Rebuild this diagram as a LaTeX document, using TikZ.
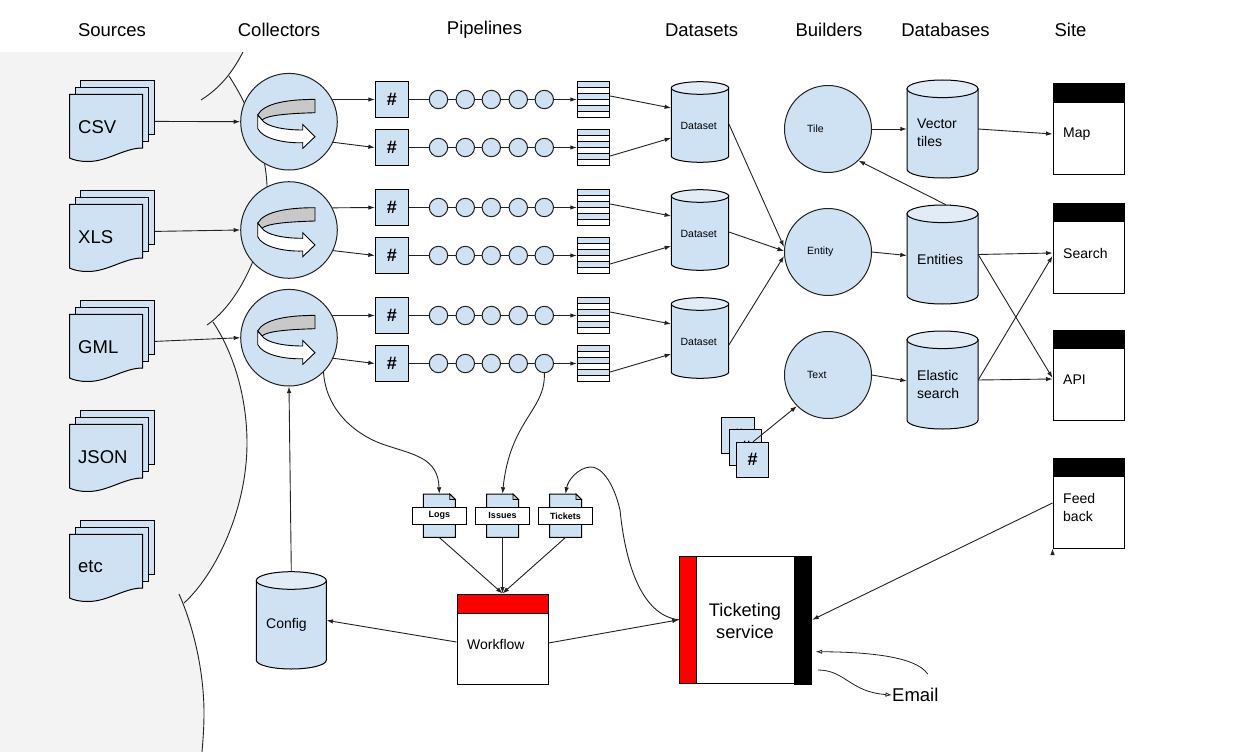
\documentclass[tikz,border=0pt]{standalone}
\usepackage{fontspec}
\setmainfont{Liberation Sans}
\usetikzlibrary{arrows.meta,calc}
\definecolor{bluefill}{HTML}{CFE2F3}
\definecolor{capfill}{HTML}{E2ECF7}
\definecolor{bggray}{HTML}{F3F3F3}
\definecolor{bandgray}{HTML}{C8C8C8}
\definecolor{linedark}{HTML}{222222}
\tikzset{
  conn/.style={draw=linedark,line width=0.9pt,-{Latex[length=6.5pt,width=4.5pt]}},
  plainconn/.style={draw=linedark,line width=0.9pt},
  openconn/.style={draw=linedark,line width=0.8pt,-{Latex[open,length=6.5pt,width=4.5pt]}},
  shapeline/.style={draw=black,line width=1pt},
  sheet/.style={shapeline,fill=bluefill,inner sep=0pt,rectangle},
  bigcircle/.style={draw=linedark,line width=1pt,fill=bluefill,circle,inner sep=0pt,minimum size=96.6pt},
  buildcircle/.style={draw=linedark,line width=1pt,fill=bluefill,circle,inner sep=0pt,minimum size=87pt},
  beadcircle/.style={draw=linedark,line width=1pt,fill=bluefill,circle,inner sep=0pt,minimum size=18.4pt},
  hashbox/.style={sheet,minimum width=33.4pt,minimum height=35.6pt,font=\fontsize{18}{20}\selectfont\bfseries},
  smallhash/.style={sheet,minimum width=32.6pt,minimum height=35.6pt,font=\fontsize{18}{20}\selectfont\bfseries},
  anchorbox/.style={inner sep=0pt,rectangle},
  headtext/.style={font=\fontsize{18.5}{22}\selectfont,inner sep=0pt},
  bigtext/.style={font=\fontsize{18.5}{22}\selectfont,inner sep=0pt,anchor=west},
  midtext/.style={font=\fontsize{14}{18}\selectfont,inner sep=0pt,anchor=west,align=left},
  smalltext/.style={font=\fontsize{10.5}{12}\selectfont,inner sep=0pt},
  notelabel/.style={shapeline,fill=white,inner sep=0pt,minimum width=54pt,minimum height=17pt,font=\fontsize{9}{10}\selectfont\bfseries},
  arcline/.style={draw=linedark,line width=0.9pt},
}
% source stack: name, vertical offset, text
\newcommand\srcstack[3]{%
  \node[sheet,minimum width=74.4pt,minimum height=54.2pt] (#1b) at (117.4,{107.4+#2}) {};
  \node[sheet,minimum width=73pt,minimum height=54pt] (#1m) at (111.6,{114.3+#2}) {};
  \draw[shapeline,fill=bluefill] (69.5,{94.3+#2}) -- (142.7,{94.3+#2}) -- (142.7,{148+#2})
     .. controls (124,{148+#2}) and (108,{161.5+#2}) .. (88,{161.5+#2})
     .. controls (79,{161.5+#2}) and (74,{160+#2}) .. (69.5,{158+#2}) -- cycle;
  \node[bigtext] (#1) at (78,{127+#2}) {#3};
}
% cylinder: name, centre x, top, bottom, width, cap radius
\newcommand\dbcyl[6]{%
  \pgfmathsetmacro\cylL{#2-#5/2}\pgfmathsetmacro\cylR{#2+#5/2}
  \pgfmathsetmacro\cylA{#3+#6}\pgfmathsetmacro\cylB{#4-#6}
  \pgfmathsetmacro\cylC{#4-#6+0.5523*#6}
  \pgfmathsetmacro\cylP{#2-0.5523*#5/2}\pgfmathsetmacro\cylQ{#2+0.5523*#5/2}
  \pgfmathsetmacro\cylM{(#3+#4)/2}\pgfmathsetmacro\cylH{#4-#3}
  \draw[shapeline,fill=bluefill] (\cylL,\cylA) -- (\cylL,\cylB)
     .. controls (\cylL,\cylC) and (\cylP,#4) .. (#2,#4)
     .. controls (\cylQ,#4) and (\cylR,\cylC) .. (\cylR,\cylB) -- (\cylR,\cylA) -- cycle;
  \draw[shapeline,fill=capfill] (#2,\cylA) ellipse [x radius=#5/2,y radius=#6];
  \node[anchorbox,minimum width=#5 pt,minimum height=\cylH pt] (#1) at (#2,\cylM) {};
}
% the curved arrow inside a collector: centre y
\newcommand\turnarrow[1]{%
  \begin{scope}[shift={(289,#1)}]
    \draw[shapeline,line width=0.9pt,fill=bandgray] (26,-22.3) .. controls (-2,-22.3) and (-25.3,-18.3) .. (-31.3,-6.7)
      -- (-27,-1.7) .. controls (-22,-6.7) and (1.3,-8.3) .. (26,-9) -- cycle;
    \draw[shapeline,line width=0.9pt,fill=white] (-31.3,-6.7) -- (-31.3,6.7) .. controls (-27,16.7) and (-5.3,21.7) .. (13.7,21)
      -- (13.7,26.7) -- (26,15) -- (13.7,2.7) -- (13.7,8.3) .. controls (-5.3,8.3) and (-22,5) .. (-27,-1.7) -- cycle;
  \end{scope}
}
% queue: name, centre y
\newcommand\queuebox[2]{%
  \foreach \qi in {0,2,4}{
    \fill[bluefill] (577.3,{#2-18+6*\qi}) rectangle (609.7,{#2-12+6*\qi});
  }
  \foreach \qi in {1,...,5}{
    \draw[black,line width=1pt] (577.3,{#2-18+6*\qi}) -- (609.7,{#2-18+6*\qi});
  }
  \node[shapeline,inner sep=0pt,minimum width=32.4pt,minimum height=36pt] (#1) at (593.5,#2) {};
}
% site page: name, top, text, text y
\newcommand\sitepage[4]{%
  \node[shapeline,fill=white,inner sep=0pt,minimum width=71pt,minimum height=90pt] (#1) at (1088.5,{#2+45}) {};
  \fill[black] (1053,#2) rectangle (1124,{#2+19});
  \node[midtext] (#1t) at (1063,#4) {#3};
}
% note: name, left of page, text
\newcommand\notedoc[3]{%
  \node[anchorbox,minimum width=32pt,minimum height=43.3pt] (#1) at ({#2+16},515.65) {};
  \draw[shapeline,fill=bluefill] (#2,494) -- ({#2+26.5},494) -- ({#2+32},499.5) -- ({#2+32},537.3) -- (#2,537.3) -- cycle;
  \draw[black,line width=0.8pt,fill=bandgray] ({#2+26.5},494) -- ({#2+26.5},499.5) -- ({#2+32},499.5) -- cycle;
  \node[notelabel] (#1l) at ({#2+16},515.8) {#3};
}
\begin{document}
\begin{tikzpicture}[x=1pt,y=-1pt]
\useasboundingbox (0,0) rectangle (1240,752);
\fill[white] (0,0) rectangle (1240,752);
% grey background
\fill[bggray] (0,52) -- (243,52) .. controls (238,62) and (234,69) .. (229,76)
  .. controls (248,105) and (265,145) .. (267,185)
  .. controls (270,235) and (243,295) .. (213,322)
  .. controls (235,355) and (247,400) .. (247,443)
  .. controls (247,510) and (215,575) .. (184,603)
  .. controls (195,630) and (204,675) .. (204,713)
  .. controls (204,728) and (203,740) .. (202,752) -- (0,752) -- cycle;
\draw[arcline] (243,52) .. controls (232,73) and (220,88) .. (201,100);
\draw[arcline] (229,76) .. controls (248,105) and (265,145) .. (267,185)
  .. controls (270,235) and (243,300) .. (207,325);
\draw[arcline] (213,322) .. controls (235,355) and (247,400) .. (247,443)
  .. controls (247,510) and (215,575) .. (184,603);
\draw[arcline] (179,594) .. controls (195,630) and (204,675) .. (204,713)
  .. controls (204,728) and (203,740) .. (202,752);
% headers
\node[headtext] (hSources) at (112,30) {Sources};
\node[headtext] (hCollectors) at (279,30) {Collectors};
\node[headtext] (hPipelines) at (484.5,30) {Pipelines};
\node[headtext] (hDatasets) at (701.5,30) {Datasets};
\node[headtext] (hBuilders) at (829,30) {Builders};
\node[headtext] (hDatabases) at (945.5,30) {Databases};
\node[headtext] (hSite) at (1070.5,30) {Site};
% sources
\srcstack{s1}{0}{CSV}
\srcstack{s2}{110}{XLS}
\srcstack{s3}{220}{GML}
\srcstack{s4}{330}{JSON}
\srcstack{s5}{440}{etc}
% collectors
\node[bigcircle] (c1) at (289,121.7) {};
\node[bigcircle] (c2) at (289,230) {};
\node[bigcircle] (c3) at (289,337.7) {};
\turnarrow{121.7}
\turnarrow{230}
\turnarrow{337.7}
\draw[conn] ([yshift=-14pt]s1b.east) -- (c1.west);
\draw[conn] ([yshift=-14pt]s2b.east) -- (c2.west);
\draw[conn] ([yshift=-14pt]s3b.east) -- (c3.west);
% pipelines
\foreach \rw/\yy in {1/99.5,2/147.5,3/207.5,4/255.5,5/315.5,6/363.5}{
  \node[hashbox] (h\rw) at (392,\yy) {\#};
  \node[beadcircle] (p\rw a) at (438.5,\yy) {};
  \node[beadcircle] (p\rw b) at (465.3,\yy) {};
  \node[beadcircle] (p\rw c) at (491.3,\yy) {};
  \node[beadcircle] (p\rw d) at (518.3,\yy) {};
  \node[beadcircle] (p\rw e) at (544.3,\yy) {};
  \queuebox{q\rw}{\yy}
  \draw[plainconn] (h\rw) -- (p\rw a);
  \draw[plainconn] (p\rw a) -- (p\rw b);
  \draw[plainconn] (p\rw b) -- (p\rw c);
  \draw[plainconn] (p\rw c) -- (p\rw d);
  \draw[plainconn] (p\rw d) -- (p\rw e);
  \draw[conn] (p\rw e) -- (q\rw);
}
\draw[conn] (c1.27) -- (h1.west);
\draw[conn] (c1.-25) -- (h2.west);
\draw[conn] (c2.27) -- (h3.west);
\draw[conn] (c2.-25) -- (h4.west);
\draw[conn] (c3.27) -- (h5.west);
\draw[conn] (c3.-25) -- (h6.west);
% datasets
\dbcyl{d1}{700}{81.7}{162.3}{57.4}{6.3}
\dbcyl{d2}{700}{189.7}{270.3}{57.4}{6.3}
\dbcyl{d3}{700}{297.7}{378.3}{57.4}{6.3}
\node[smalltext] (d1t) at (698.7,125.7) {Dataset};
\node[smalltext] (d2t) at (698.7,233.7) {Dataset};
\node[smalltext] (d3t) at (698.7,341.7) {Dataset};
\draw[conn] ([yshift=3.5pt]q1.east) -- ([yshift=14pt]d1.west);
\draw[conn] ([yshift=-8.5pt]q2.east) -- ([yshift=-16pt]d1.west);
\draw[conn] ([yshift=3.5pt]q3.east) -- ([yshift=14pt]d2.west);
\draw[conn] ([yshift=-8.5pt]q4.east) -- ([yshift=-16pt]d2.west);
\draw[conn] ([yshift=3.5pt]q5.east) -- ([yshift=14pt]d3.west);
\draw[conn] ([yshift=-8.5pt]q6.east) -- ([yshift=-16pt]d3.west);
% builders
\node[buildcircle] (bt) at (828,129) {};
\node[buildcircle] (be) at (828,252) {};
\node[buildcircle] (bx) at (828,375) {};
\node[smalltext,anchor=west] (btt) at (807,129) {Tile};
\node[smalltext,anchor=west] (bet) at (807,252) {Entity};
\node[smalltext,anchor=west] (bxt) at (807,375) {Text};
\draw[conn] ([yshift=-2pt]d1.east) -- ([yshift=5pt]be.west);
\draw[conn] ([yshift=-2pt]d2.east) -- ([yshift=1pt]be.west);
\draw[conn] ([yshift=-7pt]d3.east) -- ([yshift=-4pt]be.west);
% hash pile
\node[smallhash,minimum width=33.4pt,minimum height=36pt] (x1) at (738,435.3) {\#};
\node[smallhash,minimum height=36pt] (x2) at (745.5,447) {\#};
\node[smallhash,minimum height=35pt] (x3) at (752.5,459.8) {\#};
\draw[conn] ([xshift=0.5pt]x3.north) -- (bx.-135);
% databases
\dbcyl{v1}{942.5}{80}{178}{71}{8.8}
\dbcyl{v2}{942.5}{205}{304}{71}{8.8}
\dbcyl{v3}{942.5}{331}{429}{71}{8.8}
\node[midtext] (v1t) at (917,133) {Vector\\tiles};
\node[midtext] (v2t) at (917,259) {Entities};
\node[midtext] (v3t) at (917,384) {Elastic\\search};
\draw[conn] (bt.east) -- (v1.west);
\draw[conn] (be.east) -- ([yshift=-1pt]v2.west);
\draw[conn] (bx.east) -- ([yshift=-1pt]v3.west);
\draw[conn] ([xshift=3.5pt]v2.north) -- (bt.-46);
% site
\sitepage{m1}{84}{Map}{134}
\sitepage{m2}{203}{Search}{253}
\sitepage{m3}{330}{API}{380}
\sitepage{m4}{458}{Feed\\back}{507}
\draw[conn] (v1.east) -- ([yshift=-5pt]m1.west);
\draw[conn] (v2.east) -- ([yshift=-5pt]m2.west);
\draw[conn] (v2.east) -- ([yshift=-3pt]m3.west);
\draw[conn] (v3.east) -- ([yshift=-8pt]m2.west);
\draw[conn] (v3.east) -- ([yshift=-4pt]m3.west);
% notes
\notedoc{n1}{423.3}{Logs}
\notedoc{n2}{486.5}{Issues}
\notedoc{n3}{549.5}{Tickets}
\draw[conn] (c3.-45) .. controls (326,410) and (355,435) .. (385,445)
  .. controls (415,455) and (438,458) .. (n1.north);
\draw[conn] (p6e.south) .. controls (546,410) and (510,420) .. (n2.north);
% workflow
\node[shapeline,fill=white,inner sep=0pt,minimum width=91pt,minimum height=90pt] (wf) at (502.5,639) {};
\draw[shapeline,fill=red] (457,594) rectangle (548,613);
\node[midtext] (wft) at (467,644) {Workflow};
\draw[conn] (n1.south) -- (wf.north);
\draw[conn] (n2.south) -- (wf.north);
\draw[conn] (n3.south) -- (wf.north);
% config
\dbcyl{cf}{291.3}{571.7}{669}{70}{8.8}
\node[midtext] (cft) at (266,625) {Config};
\draw[conn] (cf.north) -- (c3.south);
\draw[conn] ([yshift=-3pt]wf.west) -- ([yshift=0pt]cf.east);
% ticketing
\node[shapeline,fill=white,inner sep=0pt,minimum width=132.4pt,minimum height=127pt] (ts) at (745.5,619.8) {};
\draw[shapeline,fill=red] (679.3,556.3) rectangle (696.3,683.3);
\fill[black] (794,555.8) rectangle (811.7,684.7);
\node[font=\fontsize{18.2}{22}\selectfont,inner sep=0pt,align=center] (tst) at (745,621) {Ticketing\\service};
\draw[conn] ([yshift=-4pt]wf.east) -- (ts.west);
\draw[conn] (ts.west) .. controls (640,615) and (625,560) .. (620,510)
  .. controls (613,480) and (600,466) .. (590,467)
  .. controls (578,468) and (568,480) .. (n3.north);
\draw[conn] ([yshift=-45.5pt]m4.west) ;
\draw[conn] (m4.west) -- (ts.east);
\node[bigtext] (email) at (892,695) {Email};
\coordinate (emailfrom) at (927.7,674);
\coordinate (emailto) at (818,670);
\coordinate (tsin) at (815.7,651.7);
\draw[openconn] (emailfrom) .. controls (915,655) and (860,652) .. (tsin);
\draw[openconn] (emailto) .. controls (845,670) and (850,692) .. (email.west);
\end{tikzpicture}
\end{document}
